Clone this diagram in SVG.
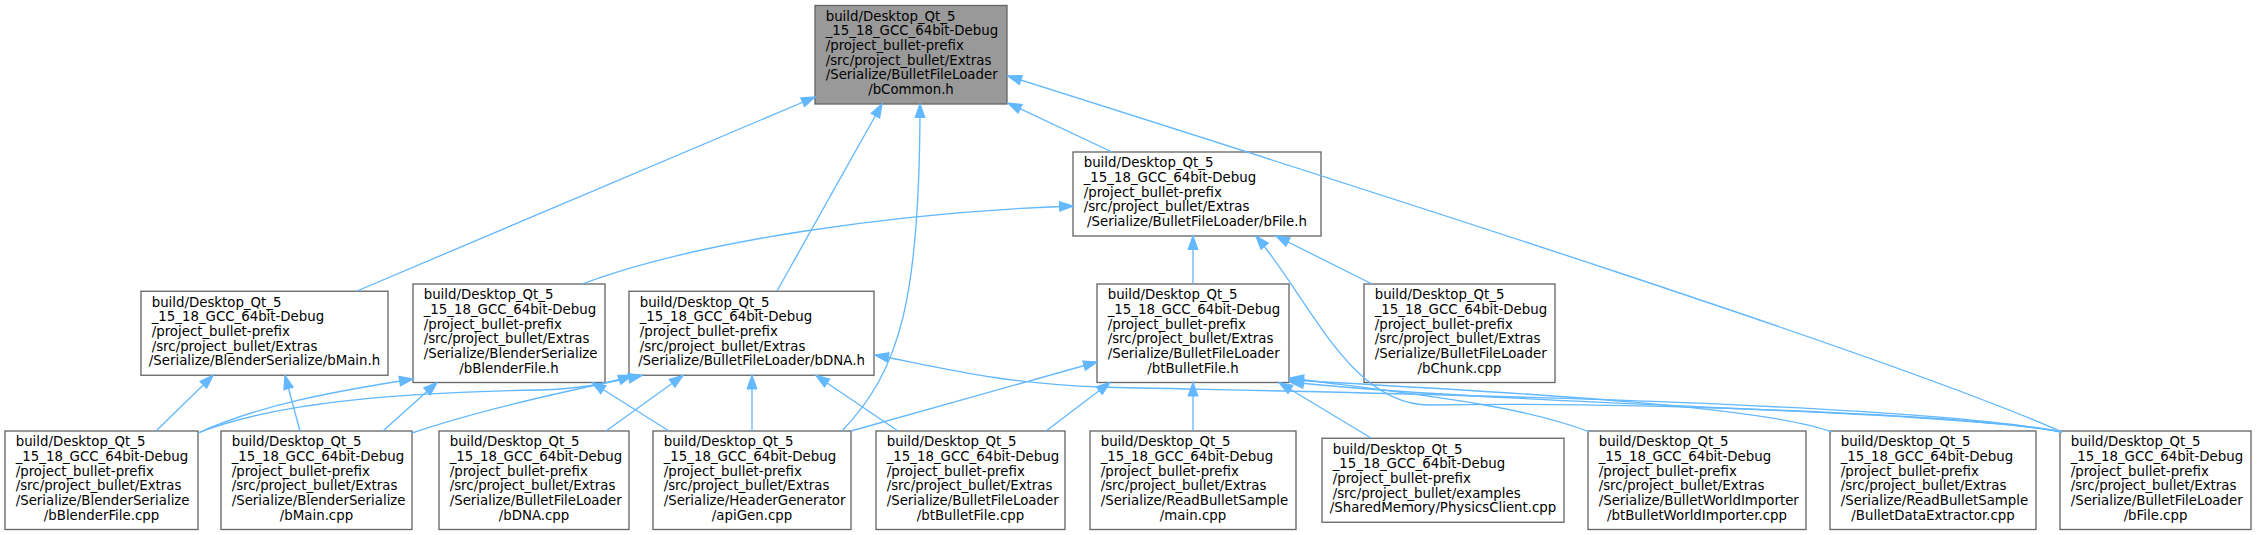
<svg xmlns="http://www.w3.org/2000/svg" width="2257" height="535" viewBox="0 0 2257 535">
<style>
.n rect{fill:#fff;stroke:#666;stroke-width:1.33}
.n text{font-family:"DejaVu Sans","Liberation Sans",sans-serif;font-size:13.33px;fill:#000}
.m{text-anchor:middle}
.c path{fill:none;stroke:#63b8ff;stroke-width:1.33;marker-end:url(#ah)}
</style>
<defs>
<marker id="ah" markerWidth="14" markerHeight="10" refX="13.33" refY="4.67" orient="auto" markerUnits="userSpaceOnUse" overflow="visible"><path d="M0,0 L13.33,4.67 L0,9.33 z" fill="#63b8ff" stroke="#63b8ff" stroke-width="1.33"/></marker>
</defs>
<rect width="2257" height="535" fill="#fff"/>
<g id="node_bCommon_h" class="n"><rect x="815" y="5.5" width="192" height="98.5" style="fill:#999"/><text y="20.8"><tspan x="825.7">build/Desktop_Qt_5</tspan><tspan x="825.7" dy="14.67">_15_18_GCC_64bit-Debug</tspan><tspan x="825.7" dy="14.67">/project_bullet-prefix</tspan><tspan x="825.7" dy="14.67">/src/project_bullet/Extras</tspan><tspan x="825.7" dy="14.67">/Serialize/BulletFileLoader</tspan><tspan x="911" dy="14.67" class="m">/bCommon.h</tspan></text></g>
<g id="node_bFile_h" class="n"><rect x="1073" y="152" width="248" height="84"/><text y="167.3"><tspan x="1083.7">build/Desktop_Qt_5</tspan><tspan x="1083.7" dy="14.67">_15_18_GCC_64bit-Debug</tspan><tspan x="1083.7" dy="14.67">/project_bullet-prefix</tspan><tspan x="1083.7" dy="14.67">/src/project_bullet/Extras</tspan><tspan x="1197" dy="14.67" class="m">/Serialize/BulletFileLoader/bFile.h</tspan></text></g>
<g id="node_bMain_h" class="n"><rect x="141" y="291.25" width="247" height="84"/><text y="306.55"><tspan x="151.7">build/Desktop_Qt_5</tspan><tspan x="151.7" dy="14.67">_15_18_GCC_64bit-Debug</tspan><tspan x="151.7" dy="14.67">/project_bullet-prefix</tspan><tspan x="151.7" dy="14.67">/src/project_bullet/Extras</tspan><tspan x="264.5" dy="14.67" class="m">/Serialize/BlenderSerialize/bMain.h</tspan></text></g>
<g id="node_bBlenderFile_h" class="n"><rect x="413" y="284" width="192" height="98.5"/><text y="299.3"><tspan x="423.7">build/Desktop_Qt_5</tspan><tspan x="423.7" dy="14.67">_15_18_GCC_64bit-Debug</tspan><tspan x="423.7" dy="14.67">/project_bullet-prefix</tspan><tspan x="423.7" dy="14.67">/src/project_bullet/Extras</tspan><tspan x="423.7" dy="14.67">/Serialize/BlenderSerialize</tspan><tspan x="509" dy="14.67" class="m">/bBlenderFile.h</tspan></text></g>
<g id="node_bDNA_h" class="n"><rect x="629" y="291.25" width="245" height="84"/><text y="306.55"><tspan x="639.7">build/Desktop_Qt_5</tspan><tspan x="639.7" dy="14.67">_15_18_GCC_64bit-Debug</tspan><tspan x="639.7" dy="14.67">/project_bullet-prefix</tspan><tspan x="639.7" dy="14.67">/src/project_bullet/Extras</tspan><tspan x="751.5" dy="14.67" class="m">/Serialize/BulletFileLoader/bDNA.h</tspan></text></g>
<g id="node_btBulletFile_h" class="n"><rect x="1097" y="284" width="192" height="98.5"/><text y="299.3"><tspan x="1107.7">build/Desktop_Qt_5</tspan><tspan x="1107.7" dy="14.67">_15_18_GCC_64bit-Debug</tspan><tspan x="1107.7" dy="14.67">/project_bullet-prefix</tspan><tspan x="1107.7" dy="14.67">/src/project_bullet/Extras</tspan><tspan x="1107.7" dy="14.67">/Serialize/BulletFileLoader</tspan><tspan x="1193" dy="14.67" class="m">/btBulletFile.h</tspan></text></g>
<g id="node_bChunk_cpp" class="n"><rect x="1364" y="284" width="191" height="98.5"/><text y="299.3"><tspan x="1374.7">build/Desktop_Qt_5</tspan><tspan x="1374.7" dy="14.67">_15_18_GCC_64bit-Debug</tspan><tspan x="1374.7" dy="14.67">/project_bullet-prefix</tspan><tspan x="1374.7" dy="14.67">/src/project_bullet/Extras</tspan><tspan x="1374.7" dy="14.67">/Serialize/BulletFileLoader</tspan><tspan x="1459.5" dy="14.67" class="m">/bChunk.cpp</tspan></text></g>
<g id="node_bBlenderFile_cpp" class="n"><rect x="5" y="431" width="193" height="98.5"/><text y="446.3"><tspan x="15.7">build/Desktop_Qt_5</tspan><tspan x="15.7" dy="14.67">_15_18_GCC_64bit-Debug</tspan><tspan x="15.7" dy="14.67">/project_bullet-prefix</tspan><tspan x="15.7" dy="14.67">/src/project_bullet/Extras</tspan><tspan x="15.7" dy="14.67">/Serialize/BlenderSerialize</tspan><tspan x="101.5" dy="14.67" class="m">/bBlenderFile.cpp</tspan></text></g>
<g id="node_bMain_cpp" class="n"><rect x="221" y="431" width="191" height="98.5"/><text y="446.3"><tspan x="231.7">build/Desktop_Qt_5</tspan><tspan x="231.7" dy="14.67">_15_18_GCC_64bit-Debug</tspan><tspan x="231.7" dy="14.67">/project_bullet-prefix</tspan><tspan x="231.7" dy="14.67">/src/project_bullet/Extras</tspan><tspan x="231.7" dy="14.67">/Serialize/BlenderSerialize</tspan><tspan x="316.5" dy="14.67" class="m">/bMain.cpp</tspan></text></g>
<g id="node_bDNA_cpp" class="n"><rect x="439" y="431" width="190" height="98.5"/><text y="446.3"><tspan x="449.7">build/Desktop_Qt_5</tspan><tspan x="449.7" dy="14.67">_15_18_GCC_64bit-Debug</tspan><tspan x="449.7" dy="14.67">/project_bullet-prefix</tspan><tspan x="449.7" dy="14.67">/src/project_bullet/Extras</tspan><tspan x="449.7" dy="14.67">/Serialize/BulletFileLoader</tspan><tspan x="534" dy="14.67" class="m">/bDNA.cpp</tspan></text></g>
<g id="node_apiGen_cpp" class="n"><rect x="653" y="431" width="198" height="98.5"/><text y="446.3"><tspan x="663.7">build/Desktop_Qt_5</tspan><tspan x="663.7" dy="14.67">_15_18_GCC_64bit-Debug</tspan><tspan x="663.7" dy="14.67">/project_bullet-prefix</tspan><tspan x="663.7" dy="14.67">/src/project_bullet/Extras</tspan><tspan x="663.7" dy="14.67">/Serialize/HeaderGenerator</tspan><tspan x="752" dy="14.67" class="m">/apiGen.cpp</tspan></text></g>
<g id="node_btBulletFile_cpp" class="n"><rect x="876" y="431" width="189" height="98.5"/><text y="446.3"><tspan x="886.7">build/Desktop_Qt_5</tspan><tspan x="886.7" dy="14.67">_15_18_GCC_64bit-Debug</tspan><tspan x="886.7" dy="14.67">/project_bullet-prefix</tspan><tspan x="886.7" dy="14.67">/src/project_bullet/Extras</tspan><tspan x="886.7" dy="14.67">/Serialize/BulletFileLoader</tspan><tspan x="970.5" dy="14.67" class="m">/btBulletFile.cpp</tspan></text></g>
<g id="node_main_cpp" class="n"><rect x="1090" y="431" width="206" height="98.5"/><text y="446.3"><tspan x="1100.7">build/Desktop_Qt_5</tspan><tspan x="1100.7" dy="14.67">_15_18_GCC_64bit-Debug</tspan><tspan x="1100.7" dy="14.67">/project_bullet-prefix</tspan><tspan x="1100.7" dy="14.67">/src/project_bullet/Extras</tspan><tspan x="1100.7" dy="14.67">/Serialize/ReadBulletSample</tspan><tspan x="1193" dy="14.67" class="m">/main.cpp</tspan></text></g>
<g id="node_PhysicsClient_cpp" class="n"><rect x="1322" y="438.25" width="242" height="84"/><text y="453.55"><tspan x="1332.7">build/Desktop_Qt_5</tspan><tspan x="1332.7" dy="14.67">_15_18_GCC_64bit-Debug</tspan><tspan x="1332.7" dy="14.67">/project_bullet-prefix</tspan><tspan x="1332.7" dy="14.67">/src/project_bullet/examples</tspan><tspan x="1443" dy="14.67" class="m">/SharedMemory/PhysicsClient.cpp</tspan></text></g>
<g id="node_btBulletWorldImporter_cpp" class="n"><rect x="1588" y="431" width="218" height="98.5"/><text y="446.3"><tspan x="1598.7">build/Desktop_Qt_5</tspan><tspan x="1598.7" dy="14.67">_15_18_GCC_64bit-Debug</tspan><tspan x="1598.7" dy="14.67">/project_bullet-prefix</tspan><tspan x="1598.7" dy="14.67">/src/project_bullet/Extras</tspan><tspan x="1598.7" dy="14.67">/Serialize/BulletWorldImporter</tspan><tspan x="1697" dy="14.67" class="m">/btBulletWorldImporter.cpp</tspan></text></g>
<g id="node_BulletDataExtractor_cpp" class="n"><rect x="1830" y="431" width="206" height="98.5"/><text y="446.3"><tspan x="1840.7">build/Desktop_Qt_5</tspan><tspan x="1840.7" dy="14.67">_15_18_GCC_64bit-Debug</tspan><tspan x="1840.7" dy="14.67">/project_bullet-prefix</tspan><tspan x="1840.7" dy="14.67">/src/project_bullet/Extras</tspan><tspan x="1840.7" dy="14.67">/Serialize/ReadBulletSample</tspan><tspan x="1933" dy="14.67" class="m">/BulletDataExtractor.cpp</tspan></text></g>
<g id="node_bFile_cpp" class="n"><rect x="2060" y="431" width="191" height="98.5"/><text y="446.3"><tspan x="2070.7">build/Desktop_Qt_5</tspan><tspan x="2070.7" dy="14.67">_15_18_GCC_64bit-Debug</tspan><tspan x="2070.7" dy="14.67">/project_bullet-prefix</tspan><tspan x="2070.7" dy="14.67">/src/project_bullet/Extras</tspan><tspan x="2070.7" dy="14.67">/Serialize/BulletFileLoader</tspan><tspan x="2155.5" dy="14.67" class="m">/bFile.cpp</tspan></text></g>
<g id="connectors" class="c">
<path d="M357,291 L815,97"/>
<path d="M777,291 L882,104"/>
<path d="M842,431 C900,370 920,300 920,104"/>
<path d="M1112,152 L1008,103"/>
<path d="M2062,432 C1900,360 1400,200 1008,76"/>
<path d="M582,284 C700,240 900,212 1073,206"/>
<path d="M1193,284 L1193,236"/>
<path d="M1372,284 L1276,236"/>
<path d="M2062,432 C1950,412 1600,402 1430,405 C1350,405 1310,300 1256,236"/>
<path d="M156,431 L213,375.5"/>
<path d="M300,431 L285,375.5"/>
<path d="M198,433 C260,405 330,392 413,379"/>
<path d="M383,431 L437,382.5"/>
<path d="M669,431 L592,382.5"/>
<path d="M198,433 C280,400 420,392 540,390 C580,389 610,383 632,375.5"/>
<path d="M412,433 C480,410 560,392 642,375.5"/>
<path d="M606,431 L683,375.5"/>
<path d="M752,431 L752,375.5"/>
<path d="M898,431 L816,375.5"/>
<path d="M2062,432 C1900,400 1300,392 1100,387 C1000,384 930,365 875,355"/>
<path d="M851,431 L1097,362"/>
<path d="M1046,431 L1110,382.5"/>
<path d="M1193,431 L1193,382.5"/>
<path d="M1371,438 L1279,382.5"/>
<path d="M1590,432 C1520,405 1420,395 1290,378"/>
<path d="M1832,432 C1760,405 1500,392 1290,380"/>
<path d="M2062,432 C1950,410 1500,405 1290,382"/>
</g>
</svg>
